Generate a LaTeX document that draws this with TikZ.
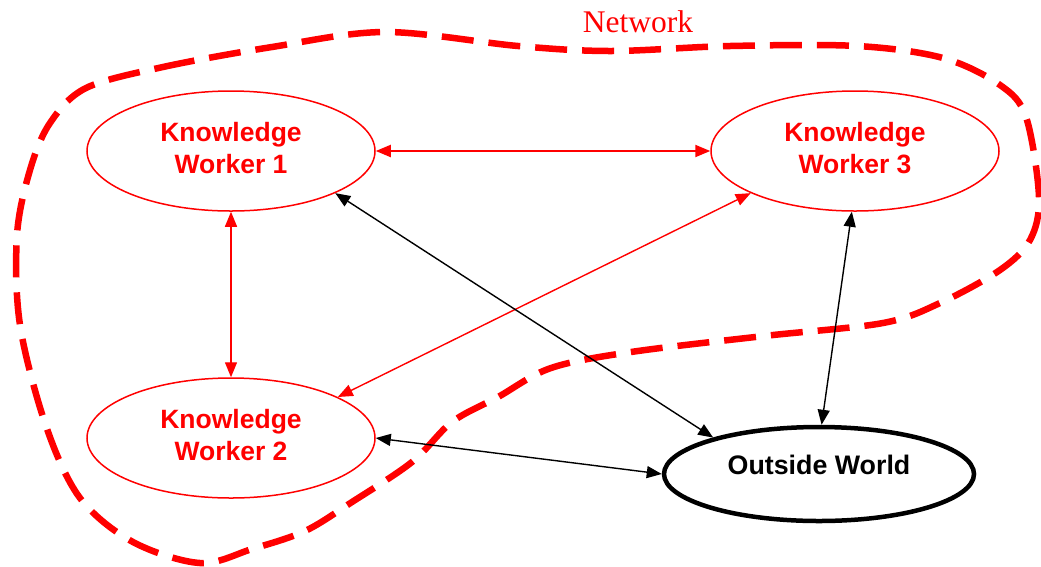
\documentclass[tikz,border=0pt]{standalone}
\usepackage{fontspec}
\setmainfont{Liberation Serif}
\setsansfont{Liberation Sans}
\usetikzlibrary{shapes.geometric,arrows.meta}
\tikzset{
  worker/.style={ellipse, draw=red, line width=1.5pt, text=red, inner sep=0pt,
    minimum width=288pt, minimum height=120pt, align=center, text depth=6pt,
    font=\sffamily\bfseries\fontsize{26.5}{32}\selectfont},
  world/.style={ellipse, draw=black, line width=4.5pt, inner sep=0pt,
    minimum width=310pt, minimum height=94pt, text depth=18pt,
    font=\sffamily\bfseries\fontsize{26.8}{32}\selectfont},
  link/.style={line width=1.4pt, {Triangle[length=15pt,width=12pt]}-{Triangle[length=15pt,width=12pt]}},
  redlink/.style={link, draw=red, fill=red},
  blacklink/.style={link, draw=black},
  boundary/.style={draw=red, line width=6.5pt, dash pattern=on 32pt off 15pt},
}
\begin{document}
\begin{tikzpicture}[x=1pt,y=-1pt]
\useasboundingbox (0,0) rectangle (1041,566);

% network boundary
\draw[boundary] plot[smooth cycle, tension=0.55] coordinates {
  (86,88) (163,67) (272,47) (385,32) (518,46) (611,51) (730,46) (857,46)
  (943,58) (1000,85) (1026,117) (1039,197) (1030,240) (1000,270) (940,303)
  (883,323) (764,336) (631,352) (551,368) (498,397) (452,422) (412,462)
  (352,502) (305,531) (252,549) (200,563) (133,542) (80,498) (46,426)
  (20,325) (17,235) (30,170) (50,123)};
\node[text=red, font=\fontsize{31.5}{36}\selectfont] (net) at (638,22) {Network};

% participants
\node[worker] (kw1) at (231,151) {Knowledge\\Worker 1};
\node[worker] (kw3) at (855,151) {Knowledge\\Worker 3};
\node[worker] (kw2) at (231,438) {Knowledge\\Worker 2};
\node[world]  (ow)  at (819,474) {Outside World};

% exchanges inside the network
\draw[redlink, line width=2pt] (kw1) -- (kw3);
\draw[redlink] (kw1) -- (kw2);
\draw[redlink] (kw3.-158) -- (kw2.21.5);

% exchanges with the outside world
\draw[blacklink] (kw1.-22) -- (ow.161.6);
\draw[blacklink] (kw3.-93) -- (ow.87);
\draw[blacklink] (kw2.east) -- (ow.west);
\end{tikzpicture}
\end{document}
